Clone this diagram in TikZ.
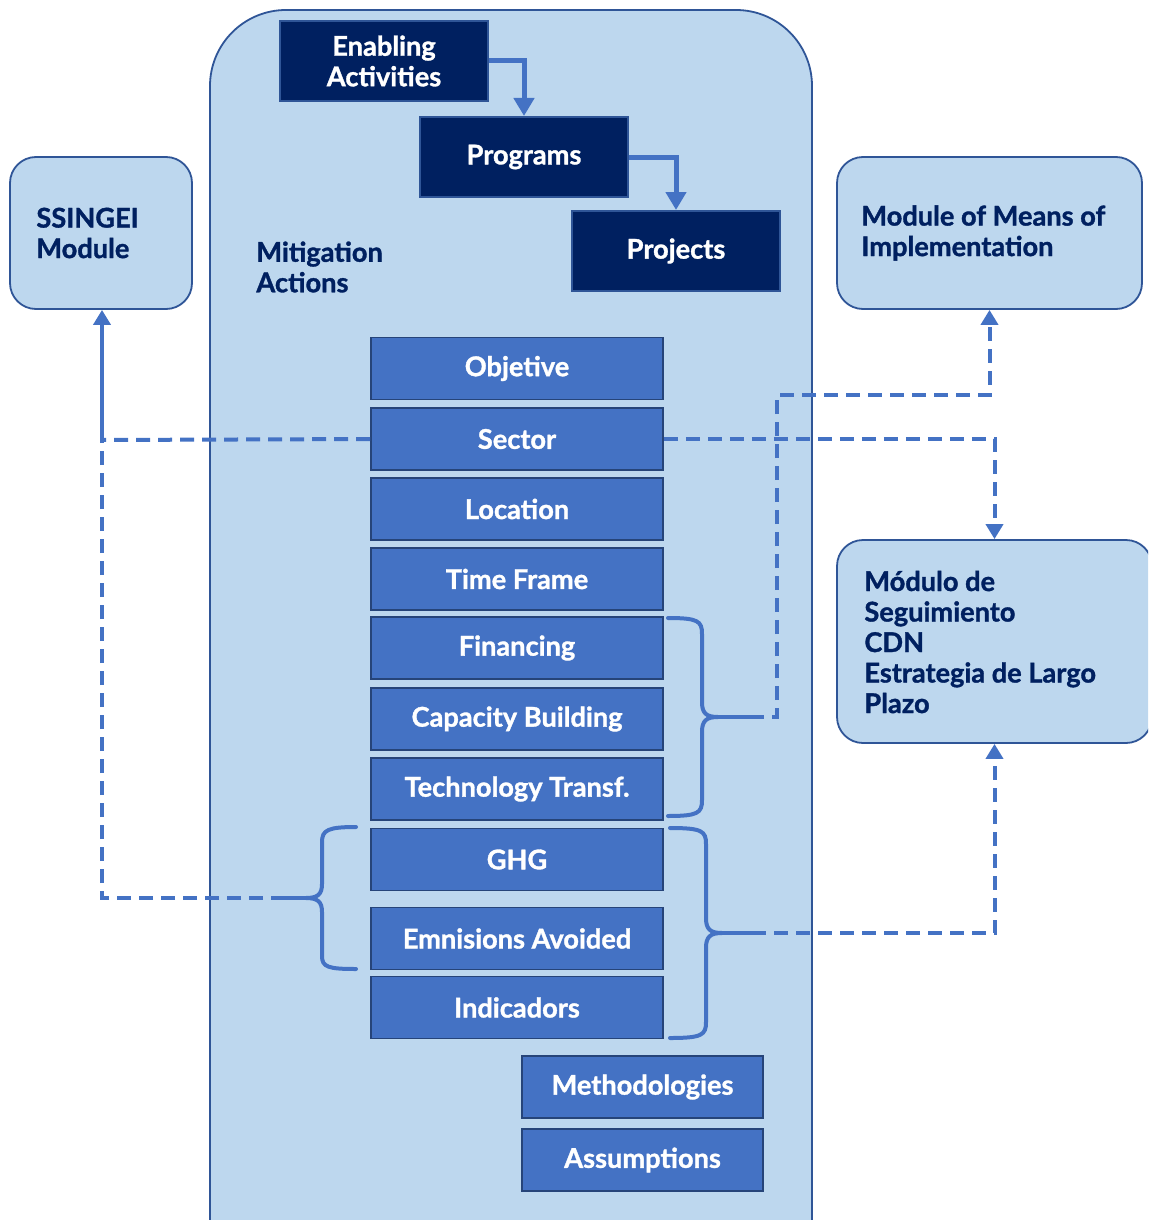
\documentclass[tikz,border=0pt]{standalone}
\usepackage{fontspec}
\setmainfont{Lato}[BoldFeatures={FakeBold=1.2}]
\usetikzlibrary{arrows.meta}
\definecolor{navy}{HTML}{002060}
\definecolor{midblue}{HTML}{4472C4}
\definecolor{lightblue}{HTML}{BDD7EE}
\definecolor{edgeblue}{HTML}{2F5597}
\definecolor{lineblue}{HTML}{4472C4}
\begin{document}
\begin{tikzpicture}[x=0.5pt,y=-0.5pt,
  font=\fontsize{13.6}{15.25}\selectfont\bfseries,
  navybox/.style={draw=edgeblue,line width=1pt,fill=navy,text=white,align=center,minimum width=104pt,minimum height=40pt,inner sep=0pt},
  listbox/.style={draw=edgeblue!80!black,line width=0.9pt,fill=midblue,text=white,minimum width=146pt,minimum height=31pt,inner sep=0pt},
  modbox/.style={draw=edgeblue,line width=0.9pt,fill=lightblue,rounded corners=13pt,inner sep=0pt},
  lbl/.style={text=navy,align=left,anchor=west,inner sep=0pt},
  flowarrow/.style={draw=lineblue,line width=2.5pt,-{Triangle[length=9pt,width=10pt]}},
  solidline/.style={draw=lineblue,line width=2pt},
  dashline/.style={draw=lineblue,line width=2pt,dash pattern=on 7pt off 4pt},
  brace/.style={draw=lineblue,line width=2pt,line cap=round},
  tip/.style={-{Triangle[length=7.5pt,width=8.5pt]}}
]
\useasboundingbox (0,0) rectangle (1148,1220);
\clip (0,0) rectangle (1148,1220);

% main container
\draw[draw=edgeblue,line width=0.9pt,fill=lightblue,rounded corners=38pt] (210,10) rectangle (812,1300);
\node[lbl] (mit) at (256,267) {Mitigation\\Actions};

% side modules
\node[modbox,minimum width=91pt,minimum height=76pt] (ssingei) at (101,233) {};
\node[lbl] (ssingeit) at (36,233) {SSINGEI\\Module};
\node[modbox,minimum width=152.5pt,minimum height=76pt] (means) at (989.5,233) {};
\node[lbl] (meanst) at (861,233) {Module of Means of\\Implementation};
\node[modbox,minimum width=157.5pt,minimum height=101.5pt] (mod) at (994.5,641.5) {};
\node[lbl] (modt) at (864,642) {Módulo de\\Seguimiento\\CDN\\Estrategia de Largo\\Plazo};

% top hierarchy
\node[navybox] (ena) at (384,61) {Enabling\\Activities};
\node[navybox] (prog) at (524,157) {Programs};
\node[navybox] (proj) at (676,251) {Projects};
\draw[flowarrow] (ena.east) -| (prog.north);
\draw[flowarrow] (prog.east) -| (proj.north);

% list
\node[listbox] (obj) at (517,368.5) {Objetive};
\node[listbox] (sec) at (517,439) {Sector};
\node[listbox] (loc) at (517,509) {Location};
\node[listbox] (tf) at (517,579) {Time Frame};
\node[listbox] (fin) at (517,648) {Financing};
\node[listbox] (cap) at (517,719) {Capacity Building};
\node[listbox] (tec) at (517,789) {Technology Transf.};
\node[listbox] (ghg) at (517,859.5) {GHG};
\node[listbox] (emi) at (517,938.5) {Emnisions Avoided};
\node[listbox] (ind) at (517,1007.5) {Indicadors};
\node[listbox,minimum width=120.5pt] (meth) at (642.5,1087) {Methodologies};
\node[listbox,minimum width=120.5pt] (ass) at (642.5,1160) {Assumptions};

% brace 1 (Financing - Technology)
\coordinate (b1tip) at (718,717);
\coordinate (b1end) at (750,717);
\draw[brace] (668,618) .. controls (698,618) and (702,621) .. (702,634) -- (702,702)
  .. controls (702,713) and (706,717) .. (b1tip)
  .. controls (706,717) and (702,721) .. (702,732) -- (702,800)
  .. controls (702,813) and (698,816) .. (668,816);
\draw[solidline] (b1tip) -- (b1end);
\coordinate (b1c1) at (777,717);
\coordinate (b1c2) at (777,395);
\draw[dashline,tip] (b1end) -- (b1c1) -- (b1c2) -| (means.south);

% brace 2 (GHG - Indicadors)
\coordinate (b2tip) at (722,933);
\coordinate (b2end) at (752,933);
\draw[brace] (670,828) .. controls (702,828) and (706,831) .. (706,844) -- (706,918)
  .. controls (706,929) and (710,933) .. (b2tip)
  .. controls (710,933) and (706,937) .. (706,948) -- (706,1022)
  .. controls (706,1035) and (702,1038) .. (670,1038);
\draw[solidline] (b2tip) -- (b2end);
\draw[dashline,tip] (b2end) -| (mod.south);

% left brace (GHG - Emnisions)
\coordinate (lbtip) at (306,898);
\coordinate (lbend) at (285,898);
\draw[brace] (356,827) .. controls (328,827) and (322,830) .. (322,842) -- (322,884)
  .. controls (322,894) and (318,898) .. (lbtip)
  .. controls (318,898) and (322,902) .. (322,912) -- (322,956)
  .. controls (322,967) and (328,969) .. (356,969);
\draw[solidline] (lbtip) -- (lbend);
\coordinate (lcorner) at (102,898);
\coordinate (ljoin) at (102,440);
\draw[dashline] (lbend) -- (lcorner) -- (ljoin);
\draw[dashline] (sec.west) -- (ljoin);
\draw[solidline,tip] (ljoin) -- (ljoin |- ssingei.south);

% sector to seguimiento
\draw[dashline,tip] (sec.east) -| (mod.north);
\end{tikzpicture}
\end{document}
